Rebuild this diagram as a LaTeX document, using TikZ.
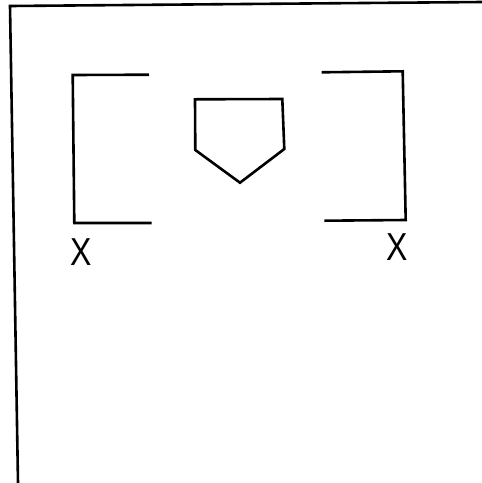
\documentclass[tikz,border=0pt]{standalone}
\usepackage{fontspec}
\setmainfont{Liberation Sans}

\begin{document}
\begin{tikzpicture}[x=1pt,y=-1pt,
  ln/.style={line width=2.6pt,line join=miter},
  xlbl/.style={inner sep=0pt,font=\fontsize{39}{39}\selectfont}]

  \useasboundingbox (0,0) rectangle (482,483);

  % Frame (top and left edges)
  \draw[ln] (482,2) -- (10,6) -- (18,483);

  % Left bracket
  \draw[ln] (149,74.7) -- (72.7,75) -- (74.3,223) -- (151.7,223);
  \node[xlbl] (xl) at (81,252.5) {\scalebox{0.82}[1]{X}};

  % Plate
  \draw[ln] (195,99.3) -- (282.3,99) -- (284.3,149) -- (240,182.7) -- (195.3,150) -- cycle;

  % Right bracket
  \draw[ln] (321.7,72.3) -- (402.7,71.3) -- (405.7,220) -- (324.3,220.7);
  \node[xlbl] (xr) at (396.7,247.5) {\scalebox{0.82}[1]{X}};

\end{tikzpicture}
\end{document}
